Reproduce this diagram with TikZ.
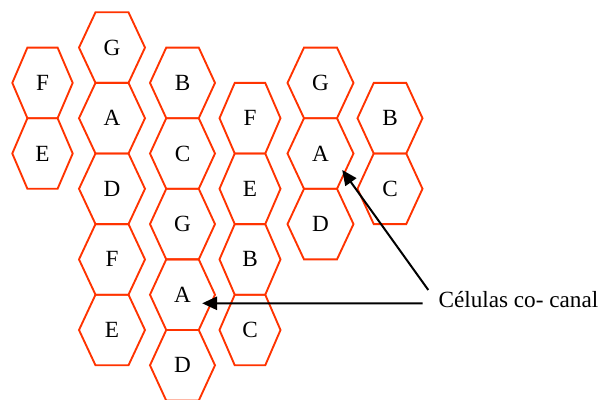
\documentclass[tikz,border=0pt]{standalone}
\usepackage{fontspec}
\setmainfont{Liberation Serif}
\usetikzlibrary{arrows.meta,calc}
\definecolor{cellred}{RGB}{255,51,0}

\begin{document}
\begin{tikzpicture}[x=0.03cm,y=-0.03cm,
  celllabel/.style={font=\fontsize{19.8}{22}\selectfont,inner sep=0pt},
  cellborder/.style={draw=cellred,line width=1.6pt},
  pointer/.style={-{Triangle[length=0.45cm,width=0.4cm]},line width=1.7pt}
]
  \useasboundingbox (0,0) rectangle (605,400);

  % Cells: column x / half width / row step / letter / name
  \foreach \x/\hw/\k/\lbl/\nm in {
      42.5/30.2/1/F/f1, 42.5/30.2/3/E/e1,
      112/33/0/G/g2, 112/33/2/A/a2, 112/33/4/D/d2, 112/33/6/F/f2, 112/33/8/E/e2,
      182.5/32.5/1/B/b3, 182.5/32.5/3/C/c3, 182.5/32.5/5/G/g3, 182.5/32.5/7/A/a3, 182.5/32.5/9/D/d3,
      250/30.5/2/F/f4, 250/30.5/4/E/e4, 250/30.5/6/B/b4, 250/30.5/8/C/c4,
      320.5/33/1/G/g5, 320.5/33/3/A/a5, 320.5/33/5/D/d5,
      390/32.5/2/B/b6, 390/32.5/4/C/c6} {
    \node[celllabel] (\nm) at (\x,{47.6+35.3*\k}) {\lbl};
    \draw[cellborder] (\nm.center) ++(-\hw,0) -- ++(\hw/2,-35.3) -- ++(\hw,0)
      -- ++(\hw/2,35.3) -- ++(-\hw/2,35.3) -- ++(-\hw,0) -- cycle;
  }

  % Label and pointers to the co-channel cells
  \node[celllabel,anchor=base west] (cochannel) at (438.3,307.3) {Células co- canal};
  \draw[pointer] ($(cochannel.base west)+(-15.6,-4)$) -- ($(a3)+(19.7,8.6)$);
  \draw[pointer] ($(cochannel.base west)+(-10,-17.3)$) -- ($(a5)+(21.7,16.5)$);
\end{tikzpicture}
\end{document}
